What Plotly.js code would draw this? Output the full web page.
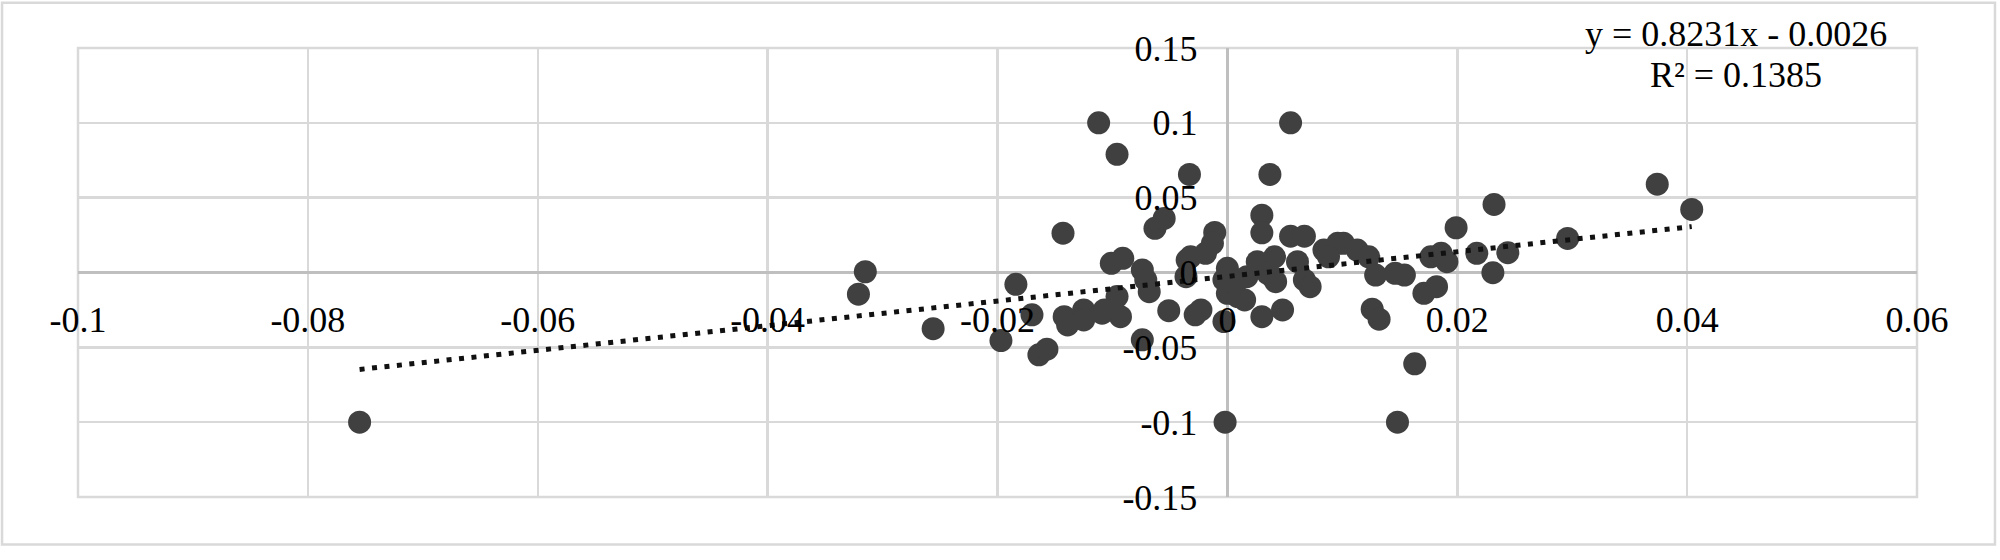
<!DOCTYPE html>
<html>
<head>
<meta charset="utf-8">
<script src="https://cdn.plot.ly/plotly-3.0.1.min.js"></script>
<style>html,body{margin:0;padding:0;background:#fff;}#chart{width:2000px;height:560px;}</style>
</head>
<body>
<div id="chart"></div>
<script>
// Scatter values
const xValues = [-0.0755,-0.0315,-0.0321,-0.0256,-0.0143,-0.0184,-0.0197,-0.0170,-0.0164,-0.0157,
  -0.0142,-0.0139,-0.0125,-0.0125,-0.0109,-0.0096,-0.0093,-0.0112,-0.0096,-0.0033,
  0.0055,0.0037,-0.0063,-0.0055,-0.0011,0.0030,0.0030,0.0055,0.0067,-0.0101,
  -0.0091,-0.0074,-0.0071,-0.0068,-0.0051,-0.0028,-0.0023,-0.0003,0.0030,0.0048,
  -0.0074,-0.0002,-0.0035,-0.0036,-0.0019,-0.0013,0.0000,-0.0003,0.0000,0.0009,
  0.0015,0.0017,0.0026,0.0041,0.0039,0.0061,0.0067,0.0072,0.0084,0.0096,
  0.0232,0.0199,0.0296,0.0217,0.0244,0.0231,0.0177,0.0186,0.0191,0.0101,
  0.0113,0.0123,0.0129,0.0146,0.0154,0.0171,0.0182,0.0126,0.0132,0.0163,
  0.0148,0.0374,0.0404,-0.0032,0.0006,0.0035,0.0042,0.0088,-0.0107];
const yValues = [-0.100,0.0005,-0.0145,-0.0375,0.0263,-0.0079,-0.0455,-0.0283,-0.0550,-0.0512,
  -0.0295,-0.0350,-0.0250,-0.0317,-0.0272,-0.0161,-0.0295,0.1000,0.0790,0.0655,
  0.1000,0.0655,0.0295,0.0361,0.0268,0.0383,0.0265,0.0243,0.0243,0.0061,
  0.0095,0.0017,-0.0050,-0.0128,-0.0255,-0.0283,-0.0250,-0.0328,-0.0295,-0.0250,
  -0.0450,-0.1000,0.0083,-0.0028,0.0128,0.0195,0.0028,-0.0050,-0.0139,-0.0161,
  -0.0183,-0.0028,0.0072,0.0105,-0.0028,0.0072,-0.0050,-0.0095,0.0150,0.0195,
  0.0455,0.0299,0.0228,0.0128,0.0132,-0.0001,0.0105,0.0128,0.0072,0.0195,
  0.0150,0.0105,-0.0017,-0.0005,-0.0017,-0.0139,-0.0095,-0.0245,-0.0312,-0.0610,
  -0.1000,0.0590,0.0421,0.0105,-0.0072,-0.0005,-0.0061,0.0105,-0.0250];

// Trendline coefficients (from the chart's equation label)
const trendSlope = 0.8231;
const trendIntercept = -0.0026;
const equationText = "y = 0.8231x - 0.0026";
const r2Text = "R² = 0.1385";

// Tick labels
const xTickVals = [-0.1,-0.08,-0.06,-0.04,-0.02,0,0.02,0.04,0.06];
const xTickText = ["-0.1","-0.08","-0.06","-0.04","-0.02","0","0.02","0.04","0.06"];
const yTickVals = [-0.15,-0.1,-0.05,0,0.05,0.1,0.15];
const yTickText = ["-0.15","-0.1","-0.05","0","0.05","0.1","0.15"];

const xMin = Math.min(...xValues), xMax = Math.max(...xValues);
const trendX = [xMin, xMax];
const trendY = trendX.map(v => trendSlope * v + trendIntercept);

const FONT = "Liberation Serif, Times New Roman, serif";
const GRID = "#d9d9d9";

const traces = [
  {
    type: "scatter", mode: "markers", x: xValues, y: yValues,
    marker: {size: 23, color: "#404040", line: {width: 0}},
    hoverinfo: "skip"
  },
  {
    type: "scatter", mode: "lines", x: trendX, y: trendY,
    line: {color: "#111111", width: 5, dash: "5px,7.5px"},
    hoverinfo: "skip"
  }
];

const layout = {
  width: 2000, height: 560,
  margin: {l: 78, r: 83, t: 48, b: 63, pad: 0},
  paper_bgcolor: "#ffffff", plot_bgcolor: "#ffffff",
  showlegend: false, hovermode: false,
  font: {family: FONT, size: 36, color: "#000000"},
  xaxis: {
    range: [-0.1, 0.06], tickmode: "array", tickvals: xTickVals, ticktext: xTickText,
    showgrid: true, gridcolor: GRID, gridwidth: 2.5,
    zeroline: true, zerolinecolor: "#bfbfbf", zerolinewidth: 3,
    showline: false, ticks: "", anchor: "free", position: 0.5,
    ticklabelstandoff: 22,
    tickfont: {family: FONT, size: 36, color: "#000000"}, fixedrange: true
  },
  yaxis: {
    range: [-0.15, 0.15], tickmode: "array", tickvals: yTickVals, ticktext: yTickText,
    showgrid: true, gridcolor: GRID, gridwidth: 2.5,
    zeroline: true, zerolinecolor: "#bfbfbf", zerolinewidth: 3,
    showline: false, ticks: "", anchor: "free", position: 0.625,
    ticklabelstandoff: 30,
    tickfont: {family: FONT, size: 36, color: "#000000"}, fixedrange: true
  },
  shapes: [
    {type: "rect", xref: "paper", yref: "paper", x0: 0, x1: 1, y0: 0, y1: 1,
     line: {color: GRID, width: 2.5}, fillcolor: "rgba(0,0,0,0)", layer: "below"},
    {type: "rect", xref: "paper", yref: "paper", x0: -0.0413, x1: 1.0424, y0: -0.1056, y1: 1.101,
     line: {color: GRID, width: 2.5}, fillcolor: "rgba(0,0,0,0)", layer: "below"}
  ],
  annotations: [
    {xref: "paper", yref: "paper", x: 0.9016, y: 1.032, xanchor: "center", yanchor: "middle",
     text: equationText, showarrow: false, font: {family: FONT, size: 36, color: "#000000"}},
    {xref: "paper", yref: "paper", x: 0.9016, y: 0.939, xanchor: "center", yanchor: "middle",
     text: r2Text, showarrow: false, font: {family: FONT, size: 36, color: "#000000"}}
  ]
};

Plotly.newPlot("chart", traces, layout, {staticPlot: true, displayModeBar: false});
</script>
</body>
</html>
